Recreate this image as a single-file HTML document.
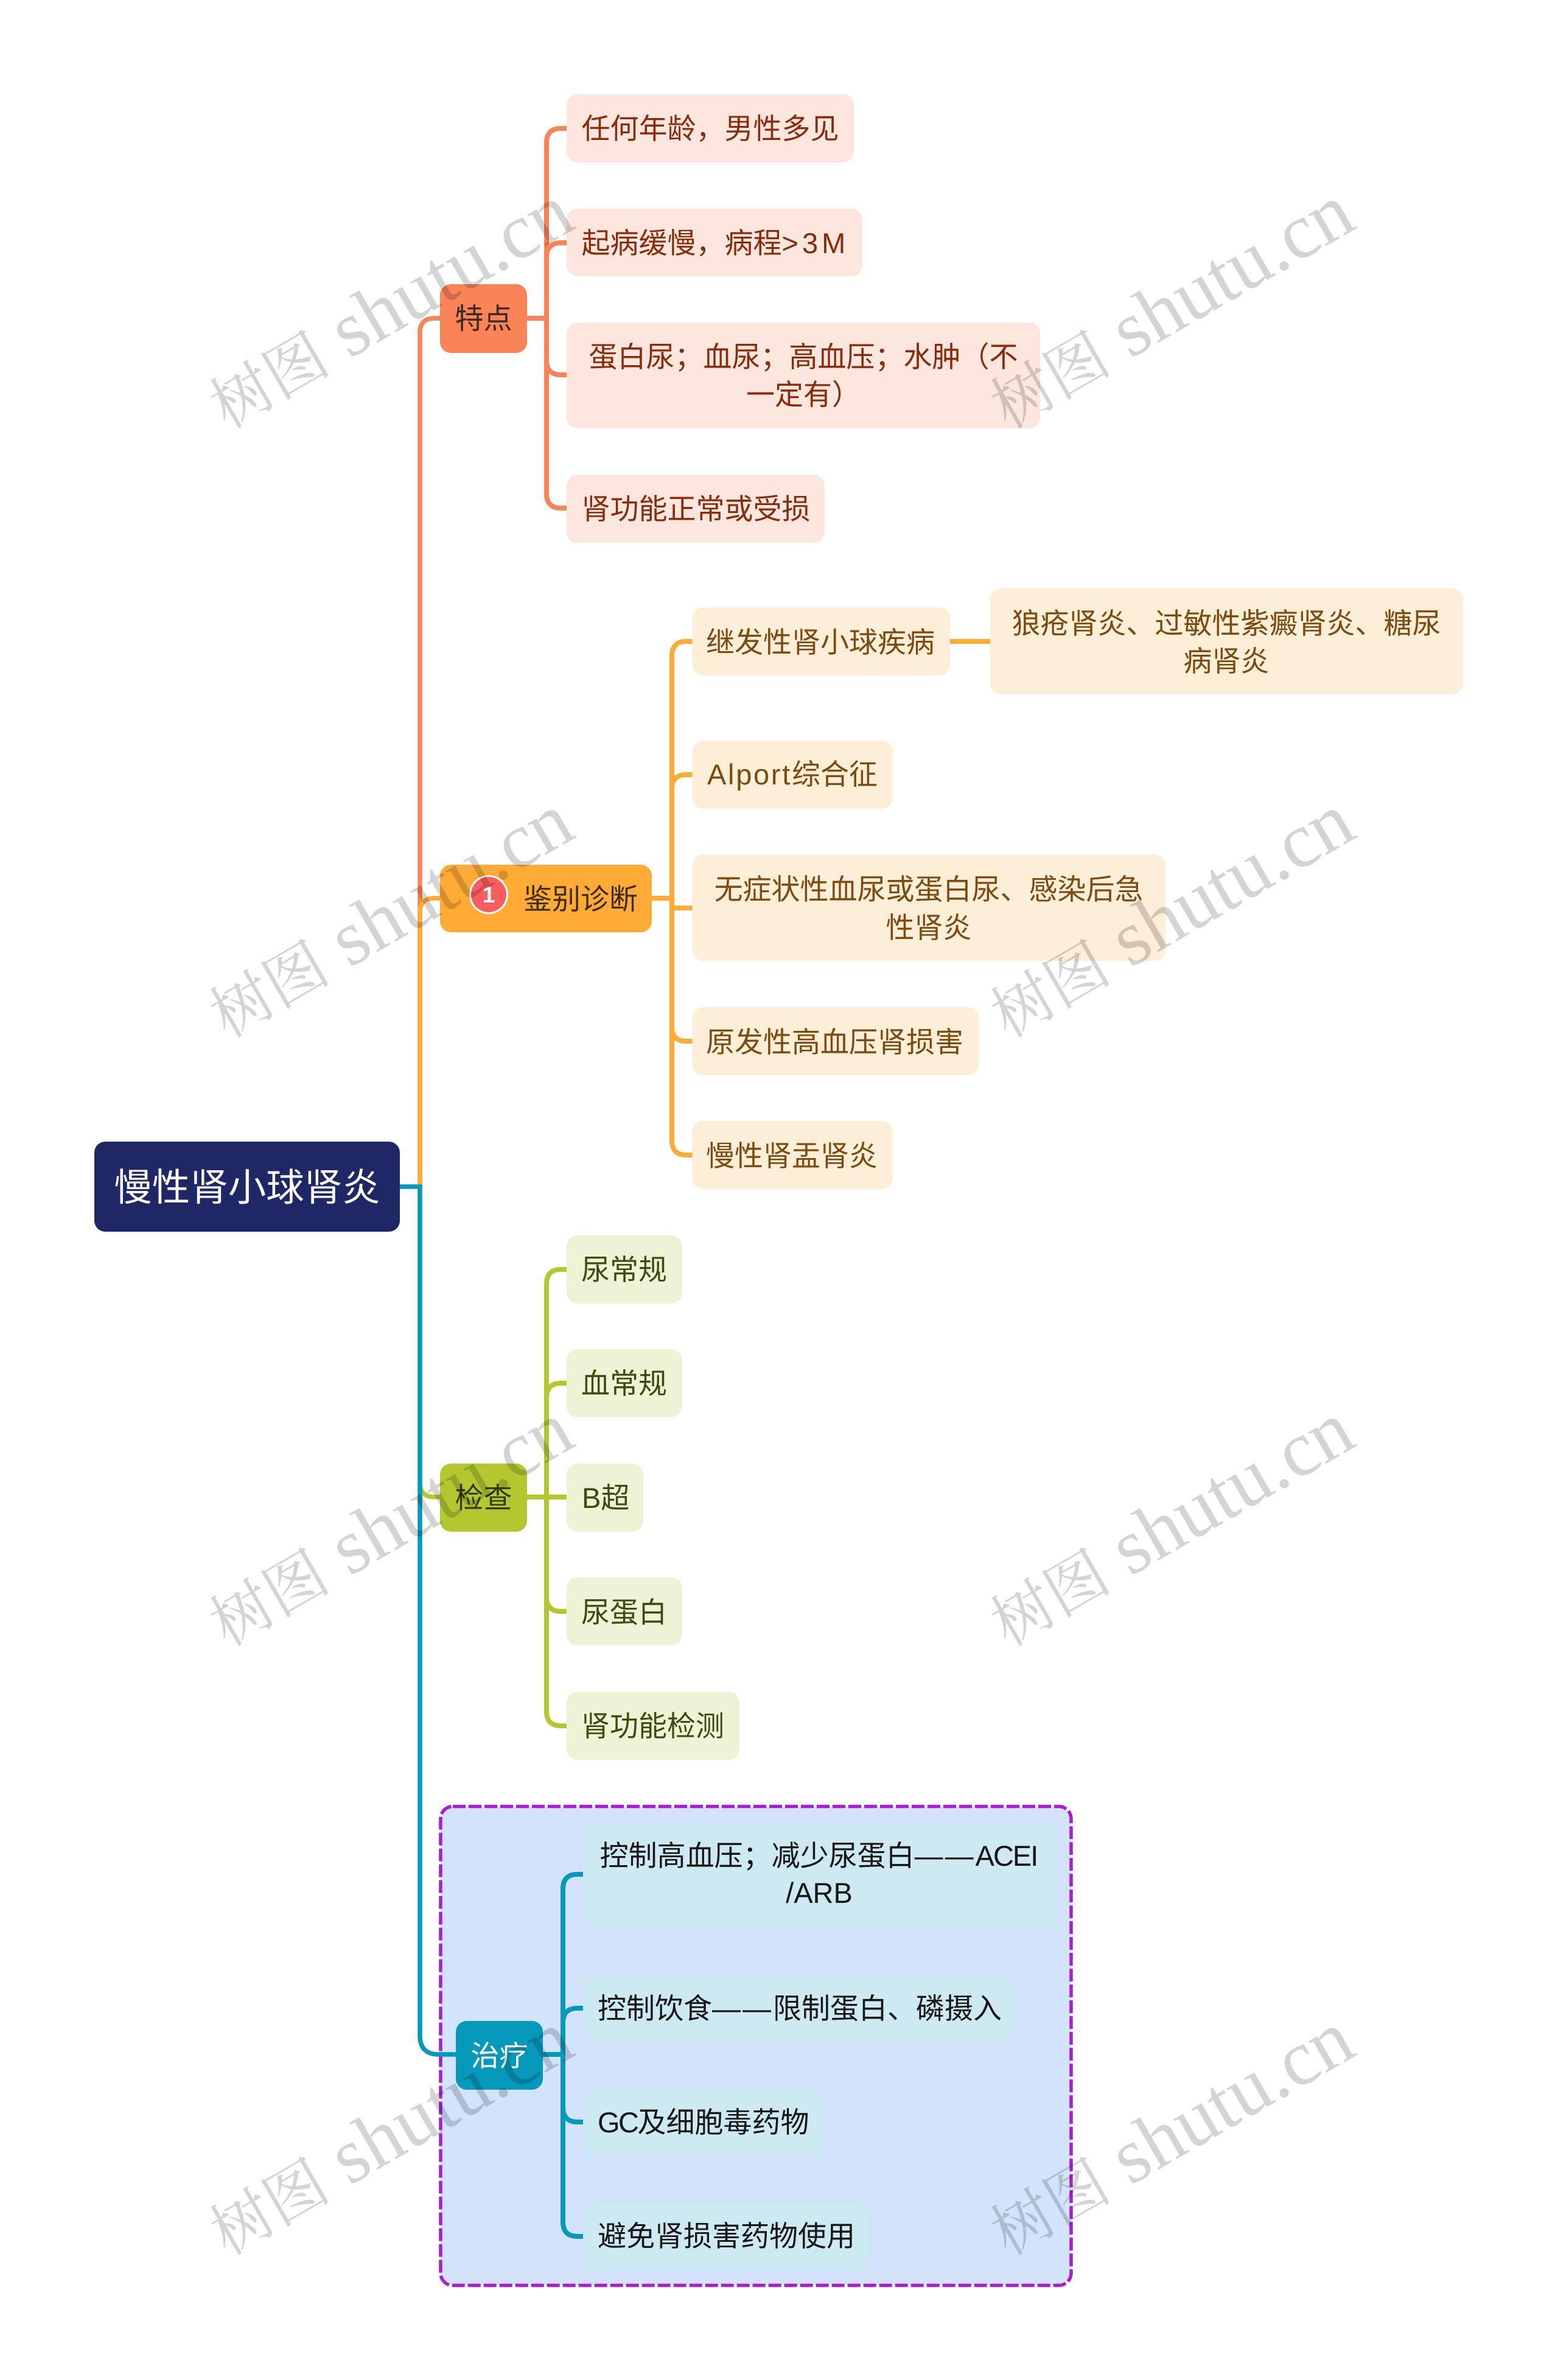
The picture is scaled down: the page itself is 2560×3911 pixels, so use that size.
<!DOCTYPE html>
<html lang="zh"><head><meta charset="utf-8"><title>慢性肾小球肾炎</title>
<style>
html,body{margin:0;padding:0;background:#fff}
svg{display:block}
text{font-family:"Liberation Sans","Noto Sans CJK SC",sans-serif;font-size:47px}
.wm text{font-family:"Liberation Serif","Noto Serif CJK SC",serif;font-size:129px;fill:#000;fill-opacity:.17}
.wm .c{font-size:100px}
.o{fill:#8a2c0c}.a{fill:#7d4a0f}.g{fill:#3f4a10}.t{fill:#161616}
</style></head><body>
<svg xmlns="http://www.w3.org/2000/svg" width="2560" height="3911" viewBox="0 0 2560 3911">
<rect width="2560" height="3911" fill="#fff"/>
<rect x="724" y="2968.5" width="1036" height="787" rx="20" fill="#d2e3fb" stroke="#a71fd0" stroke-width="5.5" stroke-dasharray="21 5"/>
<g fill="none" stroke-width="7.5">
<path stroke="#fa8357" d="M690 1950V547Q690 523 714 523H723"/>
<path stroke="#ffab35" d="M690 1950V1500Q690 1476 714 1476H723"/>
<path stroke="#b3c82f" d="M690 1950V2436Q690 2460 714 2460H723"/>
<path stroke="#0599bb" d="M657 1950H690V3345Q690 3376 721 3376H749"/>
</g>
<g fill="none" stroke-width="8">
<path stroke="#fa8357" d="M866 523H898M931 211H922Q898 211 898 235V811Q898 835 922 835H931M931 399H922Q898 399 898 423M898 592Q898 616 922 616H931"/>
<path stroke="#ffab35" d="M1071 1476H1104M1138 1054H1128Q1104 1054 1104 1078V1874Q1104 1898 1128 1898H1138M1138 1273H1128Q1104 1273 1104 1297M1138 1492H1104M1104 1687Q1104 1711 1128 1711H1138M1561 1054H1627"/>
<path stroke="#b3c82f" d="M866 2460H931M931 2086H922Q898 2086 898 2110V2812Q898 2836 922 2836H931M931 2273H922Q898 2273 898 2297M898 2624Q898 2648 922 2648H931"/>
<path stroke="#0599bb" d="M892 3376H925M958 3080H949Q925 3080 925 3104V3651Q925 3675 949 3675H958M958 3300H949Q925 3300 925 3324M925 3463Q925 3487 949 3487H958"/>
</g>
<rect x="155" y="1876" width="502" height="148" rx="18" fill="#1f2766"/>
<text x="406" y="1973" text-anchor="middle" fill="#fff" style="font-size:62.5px">慢性肾小球肾炎</text>

<rect x="723" y="467" width="143" height="113" rx="18" fill="#fa8357"/>
<text x="794.5" y="540" text-anchor="middle" fill="#3b2a22">特点</text>
<g fill="#fde6de">
<rect x="931" y="155" width="472" height="112" rx="18"/>
<rect x="931" y="343" width="486" height="111" rx="18"/>
<rect x="931" y="530" width="778" height="174" rx="18"/>
<rect x="931" y="780" width="424" height="112" rx="18"/>
</g>
<g class="o">
<text x="955.5" y="228">任何年龄，男性多见</text>
<text x="955.5" y="416">起病缓慢，病程<tspan style="letter-spacing:6px">&gt;3M</tspan></text>
<text x="1320" y="603" text-anchor="middle">蛋白尿；血尿；高血压；水肿（不</text>
<text x="1320" y="665" text-anchor="middle">一定有）</text>
<text x="955.5" y="853">肾功能正常或受损</text>
</g>

<rect x="723" y="1421" width="348" height="111" rx="18" fill="#ffab35"/>
<circle cx="803" cy="1470" r="32" fill="#fff"/><circle cx="803" cy="1470" r="29" fill="#fb5c60"/>
<text x="803" y="1483" text-anchor="middle" fill="#fff" style="font-size:37px;font-weight:bold">1</text>
<text x="860" y="1494" fill="#3d2c10">鉴别诊断</text>
<g fill="#fdeed8">
<rect x="1137.5" y="998" width="423.5" height="112" rx="18"/>
<rect x="1627" y="967" width="777" height="174" rx="18"/>
<rect x="1137.5" y="1217" width="329.5" height="112" rx="18"/>
<rect x="1137.5" y="1404" width="777.5" height="175" rx="18"/>
<rect x="1137.5" y="1655" width="471" height="112" rx="18"/>
<rect x="1137.5" y="1842" width="329.5" height="112" rx="18"/>
</g>
<g class="a">
<text x="1160" y="1072">继发性肾小球疾病</text>
<text x="2015" y="1041" text-anchor="middle">狼疮肾炎、过敏性紫癜肾炎、糖尿</text>
<text x="2015" y="1103" text-anchor="middle">病肾炎</text>
<text x="1162" y="1289"><tspan style="letter-spacing:2.7px">Alport</tspan>综合征</text>
<text x="1526" y="1478" text-anchor="middle">无症状性血尿或蛋白尿、感染后急</text>
<text x="1526" y="1541" text-anchor="middle">性肾炎</text>
<text x="1160" y="1729">原发性高血压肾损害</text>
<text x="1160" y="1916">慢性肾盂肾炎</text>
</g>

<rect x="723" y="2405" width="143" height="112" rx="18" fill="#b3c82f"/>
<text x="794.5" y="2478" text-anchor="middle" fill="#333a10">检查</text>
<g fill="#eef3d6">
<rect x="931" y="2030" width="190" height="112" rx="18"/>
<rect x="931" y="2217" width="190" height="112" rx="18"/>
<rect x="931" y="2405" width="126" height="112" rx="18"/>
<rect x="931" y="2592" width="190" height="112" rx="18"/>
<rect x="931" y="2780" width="284" height="112" rx="18"/>
</g>
<g class="g">
<text x="955" y="2103">尿常规</text>
<text x="955" y="2290">血常规</text>
<text x="956" y="2478">B超</text>
<text x="955" y="2666">尿蛋白</text>
<text x="955" y="2853">肾功能检测</text>
</g>

<rect x="749" y="3321" width="143" height="113" rx="18" fill="#0599bb"/>
<text x="820.5" y="3395" text-anchor="middle" fill="#fff">治疗</text>
<g fill="#cde9f2">
<rect x="958" y="2995" width="776" height="172" rx="18"/>
<rect x="958" y="3244" width="711" height="112" rx="18"/>
<rect x="958" y="3431" width="395" height="111" rx="18"/>
<rect x="958" y="3620" width="470" height="110" rx="18"/>
</g>
<g class="t">
<text x="1345" y="3066" text-anchor="middle">控制高血压；减少尿蛋白<tspan style="letter-spacing:3px">——</tspan><tspan style="letter-spacing:-2px">ACEI</tspan></text>
<text x="1346" y="3127" text-anchor="middle">/ARB</text>
<text x="982" y="3317">控制饮食<tspan style="letter-spacing:3px">——</tspan>限制蛋白、磷摄入</text>
<text x="982" y="3504"><tspan style="letter-spacing:-2.5px">GC</tspan>及细胞毒药物</text>
<text x="982" y="3691">避免肾损害药物使用</text>
</g>

<g class="wm">
<text transform="translate(373 706) rotate(-30)"><tspan class="c">树图</tspan><tspan dx="32">shutu.cn</tspan></text>
<text transform="translate(1656 706) rotate(-30)"><tspan class="c">树图</tspan><tspan dx="32">shutu.cn</tspan></text>
<text transform="translate(373 1707) rotate(-30)"><tspan class="c">树图</tspan><tspan dx="32">shutu.cn</tspan></text>
<text transform="translate(1656 1707) rotate(-30)"><tspan class="c">树图</tspan><tspan dx="32">shutu.cn</tspan></text>
<text transform="translate(373 2707) rotate(-30)"><tspan class="c">树图</tspan><tspan dx="32">shutu.cn</tspan></text>
<text transform="translate(1656 2707) rotate(-30)"><tspan class="c">树图</tspan><tspan dx="32">shutu.cn</tspan></text>
<text transform="translate(373 3708) rotate(-30)"><tspan class="c">树图</tspan><tspan dx="32">shutu.cn</tspan></text>
<text transform="translate(1656 3708) rotate(-30)"><tspan class="c">树图</tspan><tspan dx="32">shutu.cn</tspan></text>
</g>
</svg>
</body></html>
